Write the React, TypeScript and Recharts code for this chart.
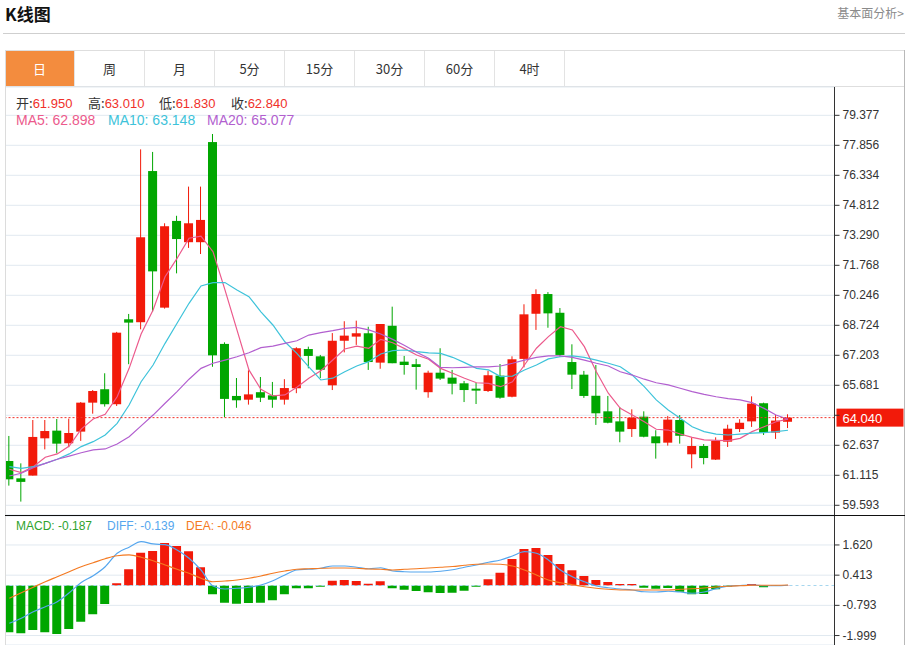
import React from 'react'
import {
  ComposedChart,
  Bar,
  Line,
  XAxis,
  YAxis,
  CartesianGrid,
  ReferenceLine,
  Cell,
} from 'recharts'

// daily candles
const opens = [
  61.84, 60.96, 61.1, 62.99, 63.38, 62.74, 63.33, 64.8, 65.48, 64.72,
  69.03, 68.88, 76.55, 69.62, 74.02, 72.94, 72.94, 78.02, 67.78, 65.14,
  64.95, 65.33, 65.17, 64.95, 65.53, 67.52, 67.15, 65.68, 67.94, 68.15,
  68.32, 66.83, 68.7, 66.88, 66.75, 65.33, 66.32, 66.07, 65.78, 65.51,
  65.39, 66.17, 65.1, 67.02, 69.31, 70.31, 69.36, 66.86, 66.22, 65.15,
  64.36, 63.85, 63.46, 64.09, 63.09, 62.77, 63.92, 62.18, 62.6, 61.91,
  62.82, 63.46, 63.85, 64.77, 63.28, 63.83,
]
const closes = [
  60.91, 60.78, 63.06, 63.36, 62.72, 63.26, 64.8, 65.39, 64.72, 68.35,
  68.86, 73.19, 71.46, 73.75, 73.1, 73.9, 74.07, 67.2, 64.99, 64.92,
  65.22, 65.05, 64.95, 65.54, 67.56, 67.17, 66.47, 67.94, 68.2, 68.32,
  66.86, 68.79, 66.8, 66.71, 66.61, 66.32, 66.02, 65.76, 65.44, 65.41,
  66.19, 65.05, 67.0, 69.28, 70.31, 69.33, 67.22, 66.22, 65.14, 64.26,
  63.78, 63.33, 64.04, 63.07, 62.74, 63.94, 63.12, 62.6, 61.99, 62.86,
  63.48, 63.78, 64.75, 63.28, 63.89, 64.04,
]
const highs = [
  63.11, 61.72, 63.92, 63.92, 63.97, 63.99, 64.83, 65.44, 66.29, 68.39,
  69.3, 77.65, 77.52, 73.9, 74.28, 75.76, 75.76, 78.43, 67.86, 66.05,
  66.44, 66.1, 65.85, 65.99, 67.61, 67.64, 67.22, 68.33, 68.93, 68.96,
  68.65, 68.79, 69.67, 67.17, 67.02, 66.42, 67.56, 66.46, 65.9, 65.8,
  66.42, 66.76, 67.15, 69.79, 70.55, 70.41, 69.6, 67.76, 66.41, 66.71,
  65.14, 64.57, 64.46, 64.36, 63.4, 64.12, 64.17, 63.04, 62.7, 63.04,
  63.68, 63.96, 65.12, 64.8, 64.17, 64.21,
]
const lows = [
  60.59, 59.78, 61.1, 62.43, 62.23, 62.54, 62.86, 64.24, 64.6, 64.63,
  66.75, 68.52, 69.41, 69.57, 71.36, 72.65, 72.34, 66.62, 64.06, 64.54,
  64.7, 64.83, 64.54, 64.7, 65.28, 66.54, 66.05, 65.44, 67.35, 67.73,
  66.46, 66.52, 66.8, 66.22, 65.46, 65.05, 65.95, 65.22, 64.83, 64.73,
  65.34, 65.0, 65.07, 66.59, 68.49, 68.6, 67.13, 65.49, 65.04, 63.67,
  63.75, 62.79, 63.06, 63.04, 61.96, 62.62, 62.72, 61.47, 61.67, 61.89,
  62.55, 63.31, 63.57, 63.16, 62.96, 63.51,
]

const ma5 = [
  61.42, 61.25, 61.55, 62.03, 62.2, 62.6, 63.46, 63.97, 64.21, 65.1,
  66.54, 68.28, 69.5, 71.19, 72.12, 73.14, 73.25, 72.46, 70.52, 68.49,
  66.46, 65.48, 65.14, 65.19, 65.58, 66.04, 66.42, 66.96, 67.52, 67.67,
  67.56, 68.01, 67.84, 67.54, 67.22, 67.0, 66.54, 66.29, 66.04, 65.81,
  65.78, 65.61, 65.86, 66.71, 67.56, 68.15, 68.65, 68.49, 67.64, 66.37,
  65.28, 64.51, 64.17, 63.83, 63.45, 63.41, 63.21, 63.04, 62.91, 62.89,
  62.87, 62.99, 63.33, 63.58, 63.83, 63.96,
]
const ma10 = [
  61.55, 61.47, 61.55, 61.72, 61.93, 62.2, 62.57, 62.82, 63.16, 63.75,
  64.68, 65.86, 66.71, 67.81, 68.83, 69.84, 70.72, 70.89, 70.89, 70.52,
  70.18, 69.41, 68.74, 67.89, 67.3, 66.62, 65.95, 66.04, 66.37, 66.66,
  66.88, 67.27, 67.44, 67.47, 67.39, 67.33, 67.3, 67.1, 66.83, 66.54,
  66.46, 66.12, 66.15, 66.46, 66.71, 67.02, 67.13, 67.17, 67.1, 66.96,
  66.8, 66.62, 66.2, 65.61, 64.94, 64.43, 64.01, 63.58, 63.33, 63.2,
  63.16, 63.2, 63.25, 63.28, 63.33, 63.4,
]
const ma20 = [
  61.08, 61.22, 61.5, 61.72, 61.93, 62.09, 62.26, 62.4, 62.45, 62.7,
  63.07, 63.62, 64.17, 64.77, 65.36, 65.99, 66.54, 66.8, 66.96, 67.13,
  67.33, 67.59, 67.67, 67.81, 67.94, 68.23, 68.35, 68.45, 68.57, 68.62,
  68.49, 68.28, 68.01, 67.7, 67.36, 67.05, 66.59, 66.57, 66.59, 66.62,
  66.62, 66.66, 66.8, 66.96, 67.1, 67.17, 67.17, 67.1, 66.96, 66.8,
  66.66, 66.37, 66.2, 65.99, 65.81, 65.7, 65.53, 65.36, 65.22, 65.1,
  65.0, 64.94, 64.8, 64.51, 64.17, 63.96,
]

const macdBars = [
  -1.87, -1.91, -1.78, -1.87, -1.94, -1.74, -1.45, -1.15, -0.74, 0.09,
  0.65, 1.31, 1.38, 1.7, 1.58, 1.37, 0.73, -0.35, -0.69, -0.73,
  -0.7, -0.69, -0.59, -0.35, -0.11, -0.11, -0.05, 0.19, 0.22, 0.18,
  0.07, 0.17, -0.11, -0.17, -0.22, -0.27, -0.3, -0.29, -0.21, -0.05,
  0.25, 0.51, 1.06, 1.46, 1.5, 1.22, 0.86, 0.61, 0.38, 0.22,
  0.14, 0.06, 0.06, -0.09, -0.13, -0.1, -0.25, -0.35, -0.34, -0.15,
  -0.05, -0.02, 0.06, -0.07, -0.02, 0.01,
]
const diffLine = [
  -1.51, -1.31, -1.05, -0.85, -0.65, -0.29, 0.12, 0.39, 0.75, 1.29,
  1.53, 1.75, 1.66, 1.63, 1.42, 1.09, 0.62, -0.02, -0.14, -0.11,
  -0.07, 0.02, 0.19, 0.42, 0.62, 0.65, 0.69, 0.78, 0.78, 0.73,
  0.67, 0.71, 0.58, 0.55, 0.54, 0.54, 0.57, 0.63, 0.73, 0.82,
  0.93, 1.02, 1.18, 1.35, 1.29, 1.02, 0.62, 0.35, 0.15, -0.02,
  -0.09, -0.14, -0.18, -0.25, -0.26, -0.23, -0.26, -0.31, -0.26, -0.13,
  -0.03, 0.0, 0.02, -0.01, -0.01, 0.01,
]
const deaLine = [
  -0.51, -0.29, -0.07, 0.15, 0.35, 0.55, 0.75, 0.91, 1.07, 1.19,
  1.22, 1.13, 0.99, 0.82, 0.65, 0.49, 0.29, 0.15, 0.18, 0.22,
  0.29, 0.38, 0.49, 0.58, 0.65, 0.67, 0.69, 0.7, 0.7, 0.69,
  0.66, 0.65, 0.62, 0.65, 0.67, 0.7, 0.73, 0.76, 0.81, 0.85,
  0.86, 0.85, 0.78, 0.62, 0.42, 0.22, 0.11, 0.03, -0.05, -0.11,
  -0.15, -0.18, -0.18, -0.18, -0.18, -0.18, -0.15, -0.13, -0.1, -0.06,
  -0.03, -0.01, 0.01, 0.01, 0.01, 0.02,
]

const priceTicks = [
  79.377, 77.856, 76.334, 74.812, 73.29, 71.768, 70.246, 68.724, 67.203,
  65.681, 64.159, 62.637, 61.115, 59.593,
]
const macdTicks = [1.62, 0.413, -0.793, -1.999]
const monthTicks = [2, 23, 46]
const periods = ['日', '周', '月', '5分', '15分', '30分', '60分', '4时']
const lastPrice = 64.04

// header texts shown in the chart
const ohlcInfo = [
  { label: '开:', value: '61.950', left: 16 },
  { label: '高:', value: '63.010', left: 88 },
  { label: '低:', value: '61.830', left: 159 },
  { label: '收:', value: '62.840', left: 231 },
]
const maInfo = [
  { text: 'MA5: 62.898', color: '#ec5a8c', left: 16 },
  { text: 'MA10: 63.148', color: '#3ec3da', left: 108 },
  { text: 'MA20: 65.077', color: '#b25fcf', left: 207 },
]
const macdInfo = [
  { text: 'MACD: -0.187', color: '#2ea32e', left: 16 },
  { text: 'DIFF: -0.139', color: '#55a6ee', left: 107 },
  { text: 'DEA: -0.046', color: '#f47a22', left: 186 },
]

const RED = '#f21a0a'
const GREEN = '#00a600'
const GRID = '#e1e9f0'
const FONT = "'Liberation Sans', Arial, 'Noto Sans CJK SC', sans-serif"
const CJK = "'Noto Sans CJK SC', 'Liberation Sans', sans-serif"

const X_DOMAIN: [number, number] = [-0.32, 68.88]
const PRICE_DOMAIN: [number, number] = [59.1, 80.814]
const MACD_DOMAIN: [number, number] = [-2.377, 2.777]

const rows = opens.map((open, i) => ({
  i,
  open,
  close: closes[i],
  high: highs[i],
  low: lows[i],
  range: [lows[i], highs[i]],
  ma5: ma5[i],
  ma10: ma10[i],
  ma20: ma20[i],
  macd: macdBars[i],
  diff: diffLine[i],
  dea: deaLine[i],
}))

function Candle(props: any) {
  const { x, y, width, height, payload } = props
  if (!payload || height == null) return null
  const { open, close, high, low } = payload
  const color = close >= open ? RED : GREEN
  const top = Math.min(y, y + height)
  const h = Math.abs(height)
  const ppu = h / (high - low)
  const toY = (v: number) => top + (high - v) * ppu
  const cx = x + width / 2
  const bodyTop = toY(Math.max(open, close))
  const bodyBottom = toY(Math.min(open, close))
  return (
    <g>
      <line x1={cx} x2={cx} y1={top} y2={top + h} stroke={color} strokeWidth={1} />
      <rect
        x={cx - 4.5}
        y={bodyTop}
        width={9}
        height={Math.max(bodyBottom - bodyTop, 1)}
        fill={color}
      />
    </g>
  )
}

function AxisTick(props: any) {
  const { x, y, payload, hideNear } = props
  if (hideNear != null && Math.abs(payload.value - hideNear) < 0.5) return <g />
  return (
    <text x={x} y={y} dy={4} fill="#333" fontSize={12} fontFamily={FONT} textAnchor="start">
      {payload.value.toFixed(3)}
    </text>
  )
}

function PriceTag(props: any) {
  const { viewBox } = props
  if (!viewBox) return null
  const x = viewBox.x + viewBox.width
  const y = viewBox.y
  return (
    <g>
      <rect x={x + 2} y={y - 9} width={67} height={18} fill={RED} />
      <text x={x + 8} y={y + 5} fill="#fff" fontSize={13} fontFamily={FONT}>
        {lastPrice.toFixed(3)}
      </text>
    </g>
  )
}

function Tabs() {
  return (
    <div
      style={{
        position: 'absolute',
        left: 5,
        top: 50,
        width: 900,
        height: 35,
        borderTop: '1px solid #dedede',
        borderBottom: '1px solid #dedede',
        display: 'flex',
        fontFamily: CJK,
        fontSize: 13,
      }}
    >
      {periods.map((p, i) => (
        <div
          key={p}
          style={{
            width: 69,
            height: 35,
            lineHeight: '35px',
            textAlign: 'center',
            borderRight: '1px solid #e3e3e3',
            background: i === 0 ? '#f38c3e' : '#fff',
            color: i === 0 ? '#fff' : '#333',
          }}
        >
          {p}
        </div>
      ))}
    </div>
  )
}

export default function App() {
  return (
    <div
      style={{
        position: 'absolute',
        left: 0,
        top: 0,
        width: 907,
        height: 645,
        background: '#fff',
        overflow: 'hidden',
        fontFamily: FONT,
      }}
    >
      <div
        style={{
          position: 'absolute',
          left: 5,
          top: 5,
          fontSize: 17,
          lineHeight: '18px',
          fontWeight: 'bold',
          color: '#111',
          fontFamily: CJK,
        }}
      >
        K线图
      </div>
      <div
        style={{
          position: 'absolute',
          right: 3,
          top: 5,
          fontSize: 12,
          lineHeight: '16px',
          color: '#8a8a8a',
          fontFamily: CJK,
        }}
      >
        基本面分析&gt;
      </div>
      <div style={{ position: 'absolute', left: 3, top: 33, width: 902, height: 1, background: '#cfcfcf' }} />

      <Tabs />

      <div style={{ position: 'absolute', left: 0, top: 86 }}>
        <ComposedChart
          width={907}
          height={430}
          data={rows}
          margin={{ top: 1, right: 0, bottom: 1, left: 5.5 }}
        >
          <CartesianGrid stroke={GRID} />
          <XAxis
            type="number"
            dataKey="i"
            domain={X_DOMAIN}
            ticks={monthTicks}
            allowDataOverflow
            tick={false}
            tickLine={false}
            axisLine={false}
            height={0}
          />
          <YAxis
            orientation="right"
            width={72.5}
            domain={PRICE_DOMAIN}
            ticks={priceTicks}
            allowDataOverflow
            interval={0}
            tickSize={5}
            tickMargin={3}
            axisLine={{ stroke: '#333' }}
            tickLine={{ stroke: '#333' }}
            tick={(p: any) => <AxisTick {...p} hideNear={lastPrice} />}
          />
          <Bar dataKey="range" barSize={9} shape={<Candle />} isAnimationActive={false} />
          <Line type="linear" dataKey="ma5" stroke="#ec5a8c" strokeWidth={1.2} dot={false} activeDot={false} isAnimationActive={false} />
          <Line type="linear" dataKey="ma10" stroke="#3ec3da" strokeWidth={1.2} dot={false} activeDot={false} isAnimationActive={false} />
          <Line type="linear" dataKey="ma20" stroke="#b25fcf" strokeWidth={1.2} dot={false} activeDot={false} isAnimationActive={false} />
          <ReferenceLine y={lastPrice} stroke="#f0302a" strokeDasharray="2 2" label={<PriceTag />} />
        </ComposedChart>
      </div>

      <div style={{ position: 'absolute', left: 0, top: 516 }}>
        <ComposedChart
          width={907}
          height={129}
          data={rows}
          margin={{ top: 0, right: 0, bottom: 0, left: 5.5 }}
        >
          <CartesianGrid stroke={GRID} />
          <XAxis
            type="number"
            dataKey="i"
            domain={X_DOMAIN}
            ticks={monthTicks}
            allowDataOverflow
            tick={false}
            tickLine={false}
            axisLine={false}
            height={0}
          />
          <YAxis
            orientation="right"
            width={72.5}
            domain={MACD_DOMAIN}
            ticks={macdTicks}
            allowDataOverflow
            interval={0}
            tickSize={5}
            tickMargin={3}
            axisLine={{ stroke: '#333' }}
            tickLine={{ stroke: '#333' }}
            tick={(p: any) => <AxisTick {...p} />}
          />
          <ReferenceLine y={0} stroke="#a6d6ee" strokeDasharray="3 3" />
          <Bar dataKey="macd" barSize={9} isAnimationActive={false}>
            {rows.map((r) => (
              <Cell key={r.i} fill={r.macd >= 0 ? RED : GREEN} />
            ))}
          </Bar>
          <Line type="monotone" dataKey="diff" stroke="#55a6ee" strokeWidth={1.2} dot={false} activeDot={false} isAnimationActive={false} />
          <Line type="monotone" dataKey="dea" stroke="#f47a22" strokeWidth={1.2} dot={false} activeDot={false} isAnimationActive={false} />
        </ComposedChart>
      </div>

      {/* frame lines */}
      <div style={{ position: 'absolute', left: 5, top: 50, width: 1, height: 595, background: '#dcdcdc' }} />
      <div style={{ position: 'absolute', left: 904, top: 50, width: 1, height: 595, background: '#b9b9b9' }} />
      <div style={{ position: 'absolute', left: 5, top: 515, width: 900, height: 1, background: '#111' }} />

      {/* header readouts */}
      <div style={{ position: 'absolute', left: 0, top: 95, fontSize: 13, lineHeight: '16px' }}>
        {ohlcInfo.map((o) => (
          <span key={o.label} style={{ position: 'absolute', left: o.left, whiteSpace: 'nowrap' }}>
            <span style={{ color: '#333', fontFamily: CJK }}>{o.label}</span>
            <span style={{ color: '#f0302a' }}>{o.value}</span>
          </span>
        ))}
      </div>
      <div style={{ position: 'absolute', left: 0, top: 112, fontSize: 14, lineHeight: '16px' }}>
        {maInfo.map((m) => (
          <span key={m.text} style={{ position: 'absolute', left: m.left, color: m.color, whiteSpace: 'nowrap' }}>
            {m.text}
          </span>
        ))}
      </div>
      <div style={{ position: 'absolute', left: 0, top: 518, fontSize: 12, lineHeight: '16px' }}>
        {macdInfo.map((m) => (
          <span key={m.text} style={{ position: 'absolute', left: m.left, color: m.color, whiteSpace: 'nowrap' }}>
            {m.text}
          </span>
        ))}
      </div>
    </div>
  )
}
